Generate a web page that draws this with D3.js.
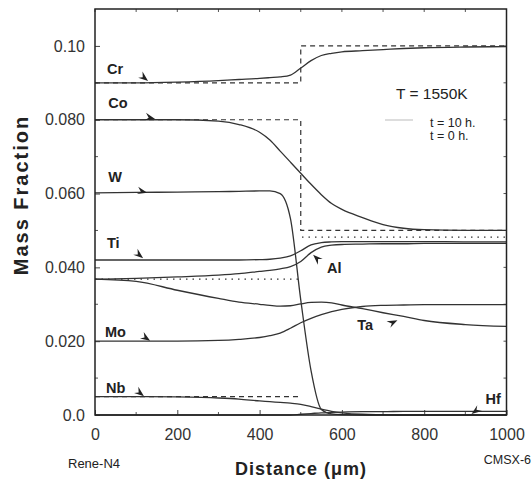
<!DOCTYPE html>
<meta charset="utf-8">
<style>
body { margin: 0; background: #fff; }
svg { font-family: "Liberation Sans", Arial, sans-serif; }
.curve { fill: none; stroke: #333; stroke-width: 1.3px; }
.init { fill: none; stroke: #333; stroke-width: 1.2px; }
.lab { font-size: 14.5px; font-weight: bold; fill: #222; }
.tick text { font-size: 16px; fill: #333; }
</style>
<body>
<script src="https://d3js.org/d3.v7.min.js"></script>
<script>

var width = 531, height = 481;
var margin = {left: 95, right: 25, top: 9, bottom: 66};

// distance grid (um)
var distance = [0, 100, 200, 300, 350, 400, 425, 450, 475, 500, 525, 550, 575, 600, 650, 700, 750, 800, 900, 1000];

// mass fractions after t = 10 h
var Cr = [0.0900, 0.0900, 0.0902, 0.0906, 0.0909, 0.0912, 0.0914, 0.0916, 0.0921, 0.0940, 0.0960, 0.0974, 0.0980, 0.0984, 0.0987, 0.0990, 0.0993, 0.0995, 0.0997, 0.0998];
var Co = [0.0800, 0.0800, 0.0800, 0.0796, 0.0787, 0.0766, 0.0745, 0.0715, 0.0685, 0.0655, 0.0625, 0.0597, 0.0573, 0.0557, 0.0535, 0.0516, 0.0506, 0.0502, 0.0500, 0.0500];
var W  = [0.0602, 0.0603, 0.0604, 0.0605, 0.0606, 0.0607, 0.0607, 0.0600, 0.0532, 0.0312, 0.0120, 0.0015, 0.0003, 0.0001, 0, 0, 0, 0, 0, 0];
var Ti = [0.0420, 0.0420, 0.0420, 0.0420, 0.0420, 0.0421, 0.0422, 0.0425, 0.0431, 0.0445, 0.0461, 0.0467, 0.0469, 0.0470, 0.0470, 0.0470, 0.0470, 0.0470, 0.0469, 0.0469];
var Al = [0.0368, 0.0370, 0.0374, 0.0379, 0.0383, 0.0389, 0.0392, 0.0396, 0.0402, 0.0416, 0.0440, 0.0455, 0.0460, 0.0462, 0.0463, 0.0464, 0.0464, 0.0465, 0.0465, 0.0465];
var Ta = [0.0368, 0.0362, 0.0338, 0.0316, 0.0306, 0.0300, 0.0297, 0.0295, 0.0296, 0.0301, 0.0305, 0.0306, 0.0304, 0.0298, 0.0288, 0.0277, 0.0267, 0.0256, 0.0245, 0.0240];
var Mo = [0.0200, 0.0200, 0.0200, 0.0202, 0.0205, 0.0210, 0.0215, 0.0222, 0.0235, 0.0250, 0.0262, 0.0272, 0.0280, 0.0286, 0.0294, 0.0297, 0.0298, 0.0299, 0.0299, 0.0299];
var Nb = [0.0050, 0.0050, 0.0049, 0.0046, 0.0043, 0.0038, 0.0036, 0.0034, 0.0032, 0.0029, 0.0023, 0.0016, 0.0010, 0.0006, 0.0002, 0.0001, 0, 0, 0, 0];
var Hf = [0, 0, 0, 0, 0, 0, 0, 0, 0, 0.0002, 0.0004, 0.0006, 0.0007, 0.0008, 0.0009, 0.0009, 0.0010, 0.0010, 0.0010, 0.0010];

var elements = ["Cr", "Co", "W", "Ti", "Al", "Ta", "Mo", "Nb", "Hf"];
var profiles = [Cr, Co, W, Ti, Al, Ta, Mo, Nb, Hf];

// initial (t = 0 h) step profiles that show: Rene-N4 | CMSX-6
var initElements = ["Cr", "Co", "Al", "Nb"];
var initLeft  = [0.090, 0.080, 0.0368, 0.005];
var initRight = [0.100, 0.050, 0.0482, 0.000];
var interfaceX = 500;

var xTicks = [0, 200, 400, 600, 800, 1000];
var yTicks = [0, 0.02, 0.04, 0.06, 0.08, 0.10];
var yTickLabels = ["0.0", "0.020", "0.040", "0.060", "0.080", "0.10"];

var svg = d3.select("body").append("svg")
    .attr("width", width)
    .attr("height", height);

var x = d3.scaleLinear().domain([0, 1000]).range([margin.left, width - margin.right + 0.5]);
var y = d3.scaleLinear().domain([0, 0.11]).range([height - margin.bottom, margin.top]);

// axes, ticks pointing inward
svg.append("g")
  .attr("transform", "translate(0," + y(0) + ")")
  .call(d3.axisBottom(x).tickValues(xTicks).tickFormat(d3.format("d")).tickSizeInner(-5).tickSizeOuter(0).tickPadding(14))
  .call(function(g){ g.select(".domain").remove(); });

svg.append("g")
  .attr("transform", "translate(" + x(0) + ",0)")
  .call(d3.axisLeft(y).tickValues(yTicks).tickFormat(function(d, i){ return yTickLabels[i]; }).tickSizeInner(-5).tickSizeOuter(0).tickPadding(10))
  .call(function(g){ g.select(".domain").remove(); });

svg.selectAll(".tick line").attr("stroke", "#444");

var minorX = d3.range(100, 1000, 200);
var minorY = d3.range(0.01, 0.11, 0.02);
var ticks = svg.append("g").attr("stroke", "#555").attr("stroke-width", 1);
minorX.forEach(function(d){
  ticks.append("line").attr("x1", x(d)).attr("x2", x(d)).attr("y1", y(0)).attr("y2", y(0) - 3);
});
xTicks.concat(minorX).forEach(function(d){
  ticks.append("line").attr("x1", x(d)).attr("x2", x(d)).attr("y1", y(0.11)).attr("y2", y(0.11) + 3);
});
minorY.forEach(function(d){
  ticks.append("line").attr("x1", x(0)).attr("x2", x(0) + 3).attr("y1", y(d)).attr("y2", y(d));
});
yTicks.concat(minorY).forEach(function(d){
  ticks.append("line").attr("x1", x(1000)).attr("x2", x(1000) - 3).attr("y1", y(d)).attr("y2", y(d));
});

// initial step profiles
var stepLine = d3.line().x(function(d){ return x(d[0]); }).y(function(d){ return y(d[1]); });
var init = svg.append("g");
initElements.forEach(function(el, i){
  var dotted = el === "Al";
  var vertical = (el === "Cr" || el === "Co");
  var pts = [[0, initLeft[i]], [interfaceX, initLeft[i]]];
  if (vertical) pts.push([interfaceX, initRight[i]], [1000, initRight[i]]);
  init.append("path")
    .attr("class", "init")
    .attr("stroke-dasharray", dotted ? "1.5,5" : "5,4")
    .attr("stroke-width", dotted ? 1.6 : 1.2)
    .attr("d", stepLine(pts));
  if (!vertical && initRight[i] > 0) {
    init.append("path")
      .attr("class", "init")
      .attr("stroke-dasharray", dotted ? "1.5,5" : "5,4")
      .attr("stroke-width", dotted ? 1.6 : 1.2)
      .attr("d", stepLine([[interfaceX + 3, initRight[i]], [1000, initRight[i]]]));
  }
});

// profiles after diffusion
var line = d3.line()
  .x(function(d){ return x(d[0]); })
  .y(function(d){ return y(d[1]); })
  .curve(d3.curveMonotoneX);

svg.append("g").selectAll("path")
  .data(profiles)
  .enter()
  .append("path")
  .attr("class", "curve")
  .attr("d", function(vals){ return line(distance.map(function(d, i){ return [d, vals[i]]; })); });

// frame
svg.append("rect")
  .attr("x", x(0)).attr("y", y(0.11))
  .attr("width", x(1000) - x(0)).attr("height", y(0) - y(0.11))
  .attr("fill", "none").attr("stroke", "#222").attr("stroke-width", 1.5);

// element labels with arrowheads
var notes = [
  {el: "Cr", tx: 29, ty: 0.0924, ax: 129, ay: 0.0905, ang: 35},
  {el: "Co", tx: 32, ty: 0.0832, ax: 146, ay: 0.0802, ang: 10},
  {el: "W",  tx: 32, ty: 0.0631, ax: 127, ay: 0.0602, ang: 10},
  {el: "Ti", tx: 29, ty: 0.0453, ax: 117, ay: 0.0425, ang: 35},
  {el: "Mo", tx: 24, ty: 0.0211, ax: 134, ay: 0.0201, ang: 30},
  {el: "Nb", tx: 27, ty: 0.0060, ax: 119, ay: 0.0051, ang: 35},
  {el: "Al", tx: 564, ty: 0.0385, ax: 530, ay: 0.0434, ang: -140},
  {el: "Ta", tx: 637, ty: 0.0230, ax: 735, ay: 0.0257, ang: -30},
  {el: "Hf", tx: 949, ty: 0.0030, ax: 915, ay: 0.0003, ang: 140}
];

notes.forEach(function(n){
  svg.append("text")
    .attr("class", "lab")
    .attr("x", x(n.tx)).attr("y", y(n.ty))
    .text(n.el);
  svg.append("path")
    .attr("d", "M0,0 L-10,-4.5 L-6.5,0 L-10,3 Z")
    .attr("fill", "#222")
    .attr("transform", "translate(" + x(n.ax) + "," + y(n.ay) + ") rotate(" + n.ang + ")");
});

// legend
svg.append("text").attr("x", 396).attr("y", 99)
  .attr("font-size", "15.5px").attr("fill", "#222").text("T = 1550K");
svg.append("line").attr("x1", 385).attr("x2", 413).attr("y1", 120).attr("y2", 120)
  .attr("stroke", "#ddd").attr("stroke-width", 2);
svg.append("text").attr("x", 430).attr("y", 127)
  .attr("font-size", "12.5px").attr("fill", "#222").text("t = 10 h.");
svg.append("text").attr("x", 430).attr("y", 140)
  .attr("font-size", "12.5px").attr("fill", "#222").text("t = 0 h.");

// axis titles
svg.append("text")
  .attr("transform", "translate(28,195) rotate(-90)")
  .attr("text-anchor", "middle")
  .attr("font-size", "20px").attr("font-weight", "bold").attr("letter-spacing", "2px")
  .attr("fill", "#222")
  .text("Mass Fraction");

svg.append("text")
  .attr("x", 301).attr("y", 475)
  .attr("text-anchor", "middle")
  .attr("font-size", "18px").attr("font-weight", "bold").attr("letter-spacing", "1px")
  .attr("fill", "#222")
  .text("Distance (\u03bcm)");

svg.append("text").attr("x", 68).attr("y", 468)
  .attr("font-size", "13px").attr("fill", "#222").text("Rene-N4");
svg.append("text").attr("x", 531).attr("y", 464).attr("text-anchor", "end")
  .attr("font-size", "12.5px").attr("fill", "#222").text("CMSX-6");

</script>
